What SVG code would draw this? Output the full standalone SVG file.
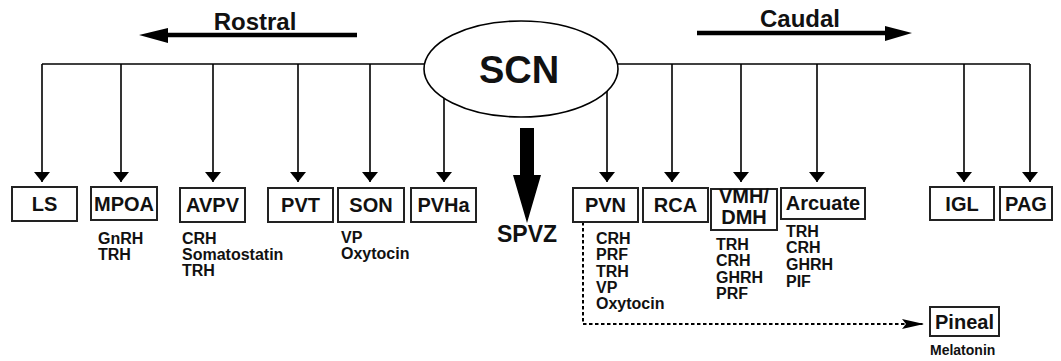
<svg xmlns="http://www.w3.org/2000/svg" width="1061" height="361" viewBox="0 0 1061 361">
<defs>
<marker id="ah" markerUnits="userSpaceOnUse" viewBox="0 0 10 16" refX="10" refY="8" markerWidth="10" markerHeight="16" orient="auto-start-reverse">
<path d="M0,0 L10,8 L0,16 Z" fill="#000"/>
</marker>
<marker id="ahd" markerUnits="userSpaceOnUse" viewBox="0 0 22 10" refX="22" refY="5" markerWidth="22" markerHeight="10" orient="auto">
<path d="M0,0 L22,5 L0,10 L4,5 Z" fill="#000"/>
</marker>
</defs>
<style>
text{font-family:"Liberation Sans",Arial,Helvetica,sans-serif;font-weight:bold;fill:#111}
.lbl{font-size:20px;text-anchor:middle}
.note{font-size:16px}
.box{fill:#fff;stroke:#222;stroke-width:2}
.wire{fill:none;stroke:#000;stroke-width:1.6}
.drop{fill:none;stroke:#000;stroke-width:1.6;marker-end:url(#ah)}
.big{fill:none;stroke:#000;stroke-width:4.5}
</style>
<rect width="1061" height="361" fill="#fff"/>

<g id="direction">
<text x="255" y="30" font-size="24" text-anchor="middle">Rostral</text>
<line class="big" x1="357" y1="35" x2="165" y2="35"/>
<polygon points="139,35 168,28 168,43"/>
<text x="800" y="27" font-size="24" text-anchor="middle">Caudal</text>
<line class="big" x1="697" y1="33" x2="888" y2="33"/>
<polygon points="912,33 885,26 885,41"/>
</g>

<g id="connectors">
<path class="wire" d="M42,64 H1030"/>
<path class="drop" d="M42,64 V182"/>
<path class="drop" d="M121,64 V182"/>
<path class="drop" d="M213,64 V182"/>
<path class="drop" d="M298,64 V182"/>
<path class="drop" d="M370,64 V182"/>
<path class="drop" d="M444,80 V182"/>
<path class="drop" d="M607,80 V182"/>
<path class="drop" d="M672,64 V182"/>
<path class="drop" d="M741,64 V182"/>
<path class="drop" d="M817,64 V182"/>
<path class="drop" d="M964,64 V182"/>
<path class="drop" d="M1030,64 V182"/>
<path d="M583,222 V324 H924" fill="none" stroke="#000" stroke-width="2" stroke-dasharray="3.5,2.5" marker-end="url(#ahd)"/>
<polygon id="spvz-arrow" points="520,128 534,128 534,175 541,175 527,223 513,175 520,175"/>
</g>

<g id="SCN">
<ellipse cx="521" cy="69" rx="97" ry="48" fill="#fff" stroke="#000" stroke-width="1.6"/>
<text x="519" y="83" font-size="38" text-anchor="middle">SCN</text>
</g>

<g id="SPVZ"><text x="527" y="242" font-size="23" text-anchor="middle">SPVZ</text></g>

<g id="LS"><rect class="box" x="12" y="187" width="65" height="34"/><text class="lbl" x="44.5" y="211">LS</text></g>
<g id="MPOA"><rect class="box" x="91" y="187" width="66" height="33"/><text class="lbl" x="124" y="211">MPOA</text>
<text class="note" x="98" y="244">GnRH</text><text class="note" x="98" y="260">TRH</text></g>
<g id="AVPV"><rect class="box" x="180" y="188" width="65" height="34"/><text class="lbl" x="212.5" y="212">AVPV</text>
<text class="note" x="182" y="244">CRH</text><text class="note" x="182" y="260">Somatostatin</text><text class="note" x="182" y="276">TRH</text></g>
<g id="PVT"><rect class="box" x="268" y="188" width="65" height="34"/><text class="lbl" x="300.5" y="212">PVT</text></g>
<g id="SON"><rect class="box" x="338" y="188" width="66" height="34"/><text class="lbl" x="371" y="212">SON</text>
<text class="note" x="341" y="243">VP</text><text class="note" x="341" y="259">Oxytocin</text></g>
<g id="PVHa"><rect class="box" x="411" y="188" width="65" height="34"/><text class="lbl" x="443.5" y="212">PVHa</text></g>

<g id="PVN"><rect class="box" x="573" y="188" width="65" height="34"/><text class="lbl" x="605.5" y="212">PVN</text>
<text class="note" x="596" y="244">CRH</text><text class="note" x="596" y="260">PRF</text><text class="note" x="596" y="277">TRH</text><text class="note" x="596" y="293">VP</text><text class="note" x="596" y="309">Oxytocin</text></g>
<g id="RCA"><rect class="box" x="643" y="188" width="65" height="34"/><text class="lbl" x="675.5" y="212">RCA</text></g>
<g id="VMH-DMH"><rect class="box" x="711" y="189" width="66" height="41"/><text class="lbl" x="744" y="203">VMH/</text><text class="lbl" x="744" y="224">DMH</text>
<text class="note" x="716" y="250">TRH</text><text class="note" x="716" y="266">CRH</text><text class="note" x="716" y="283">GHRH</text><text class="note" x="716" y="299">PRF</text></g>
<g id="Arcuate"><rect class="box" x="781" y="188" width="84" height="31"/><text class="lbl" x="823" y="210">Arcuate</text>
<text class="note" x="786" y="237">TRH</text><text class="note" x="786" y="253">CRH</text><text class="note" x="786" y="270">GHRH</text><text class="note" x="786" y="287">PIF</text></g>
<g id="IGL"><rect class="box" x="930" y="187" width="64" height="33"/><text class="lbl" x="962" y="211">IGL</text></g>
<g id="PAG"><rect class="box" x="1000" y="187" width="52" height="33"/><text class="lbl" x="1026" y="211">PAG</text></g>
<g id="Pineal"><rect class="box" x="930" y="307" width="69" height="29"/><text class="lbl" x="964.5" y="329">Pineal</text>
<text x="930" y="355" font-size="14">Melatonin</text></g>
</svg>
